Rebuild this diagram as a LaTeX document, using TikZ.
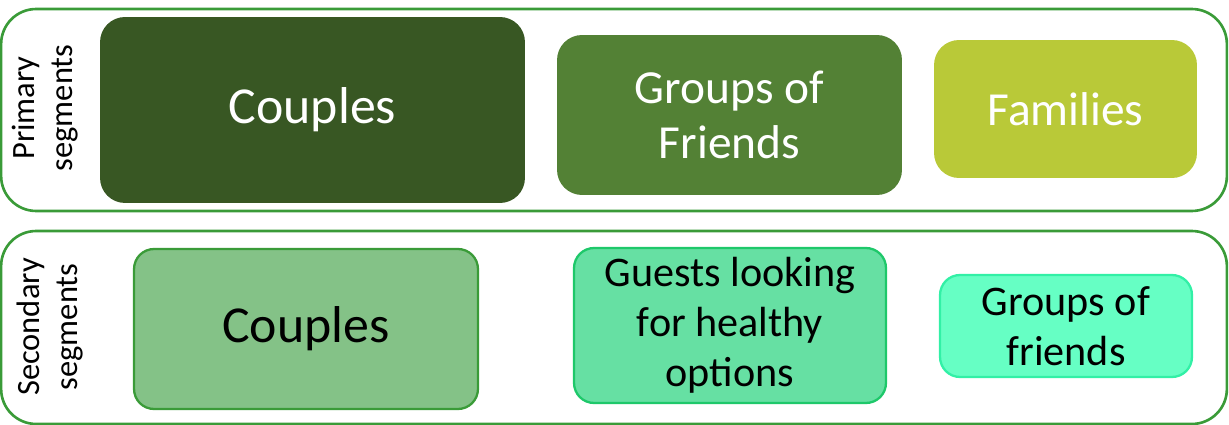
\documentclass[tikz,border=0pt]{standalone}
\usepackage{fontspec}
\setmainfont{Carlito}
\usepackage{tikz}
\usetikzlibrary{positioning}
\definecolor{panelgreen}{RGB}{58,155,56}
\definecolor{segdark}{RGB}{56,87,35}
\definecolor{segmid}{RGB}{83,129,53}
\definecolor{seglime}{RGB}{185,201,56}
\definecolor{segsoft}{RGB}{132,194,135}
\definecolor{segmint}{RGB}{102,224,163}
\definecolor{segmintline}{RGB}{30,200,106}
\definecolor{segaqua}{RGB}{102,255,196}
\definecolor{segaqualine}{RGB}{50,240,166}
\tikzset{
  panel/.style={draw=panelgreen, line width=1.5pt, rounded corners=0.7cm,
      minimum width=24.52cm},
  panellbl/.style={rotate=90, align=center, font=\fontsize{18.5}{21.5}\selectfont},
  primbox/.style={rounded corners=0.5cm, align=center, text=white, fill=#1,
      font=\fontsize{27}{31.5}\selectfont},
  secbox/.style={rounded corners=0.4cm, align=center, text=black, line width=1.3pt,
      font=\fontsize{24}{28.5}\selectfont},
}

\begin{document}
\begin{tikzpicture}[x=0.02cm, y=-0.02cm]
  \useasboundingbox (0,0) rectangle (1229,425);

  % the two rows
  \node[panel, minimum height=4.04cm] (prim) at (614,110) {};
  \node[panel, minimum height=3.86cm] (sec) at (614,327.5) {};
  \node[panellbl] (primlbl) at (45,108) {Primary\\segments};
  \node[panellbl] (seclbl) at (50,327) {Secondary\\segments};

  % primary segments
  \node[primbox=segdark, minimum width=8.5cm, minimum height=3.72cm,
      font=\fontsize{29.5}{34}\selectfont] (couples) at (312.5,110) {Couples};
  \node[primbox=segmid, minimum width=6.9cm, minimum height=3.2cm] (friends) at (729.5,115) {Groups of\\Friends};
  \node[primbox=seglime, minimum width=5.26cm, minimum height=2.76cm] (families) at (1065.5,109) {Families};

  % secondary segments
  \node[secbox, fill=segsoft, draw=panelgreen, minimum width=6.88cm, minimum height=3.2cm,
      font=\fontsize{29.5}{34}\selectfont] (couples2) at (306,329) {Couples};
  \node[secbox, fill=segmint, draw=segmintline, minimum width=6.24cm, minimum height=3.1cm] (healthy) at (730,325.5) {Guests looking\\for healthy\\options};
  \node[secbox, fill=segaqua, draw=segaqualine, minimum width=5.04cm, minimum height=2.04cm] (friends2) at (1066,326) {Groups of\\friends};
\end{tikzpicture}
\end{document}
